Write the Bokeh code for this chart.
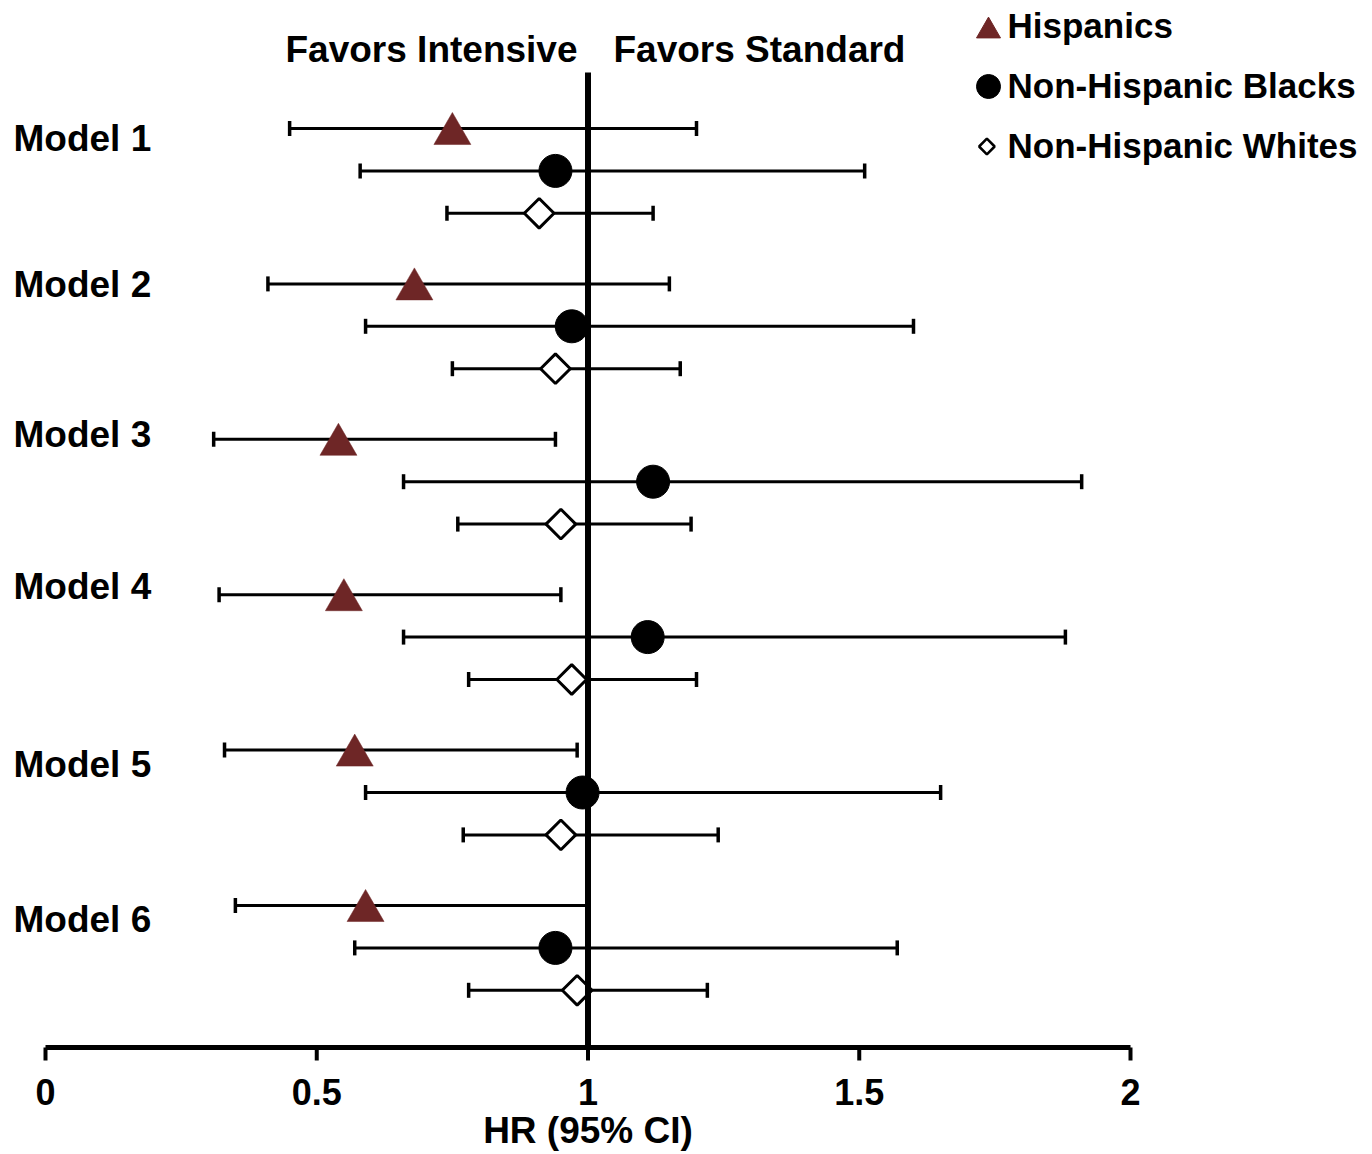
import math
from bokeh.plotting import figure
from bokeh.models import Range1d, ColumnDataSource
from bokeh.core.properties import value
from bokeh.embed import file_html
from bokeh.resources import INLINE

# ---------------- data ----------------
models = ["Model 1", "Model 2", "Model 3", "Model 4", "Model 5", "Model 6"]
series_names = ["Hispanics", "Non-Hispanic Blacks", "Non-Hispanic Whites"]

hisp_hr = [0.75, 0.68, 0.54, 0.55, 0.57, 0.59]
hisp_lo = [0.45, 0.41, 0.31, 0.32, 0.33, 0.35]
hisp_hi = [1.20, 1.15, 0.94, 0.95, 0.98, 1.00]

black_hr = [0.94, 0.97, 1.12, 1.11, 0.99, 0.94]
black_lo = [0.58, 0.59, 0.66, 0.66, 0.59, 0.57]
black_hi = [1.51, 1.60, 1.91, 1.88, 1.65, 1.57]

white_hr = [0.91, 0.94, 0.95, 0.97, 0.95, 0.98]
white_lo = [0.74, 0.75, 0.76, 0.78, 0.77, 0.78]
white_hi = [1.12, 1.17, 1.19, 1.20, 1.24, 1.22]

x_ticks = [0, 0.5, 1, 1.5, 2]
x_tick_labels = ["0", "0.5", "1", "1.5", "2"]
x_axis_title = "HR (95% CI)"
favors_left = "Favors Intensive"
favors_right = "Favors Standard"
ref_value = 1.0

# ---------------- layout (pixels in page space) ----------------
FIG_W, FIG_H = 1370, 1154
OFF = 0
X0_PX, X2_PX = 45, 1130
PX_PER_UNIT = (X2_PX - X0_PX) / 2.0


def px_x(px):
    return (px - X0_PX) / PX_PER_UNIT


ROW0 = 128.0
GROUP_STEP = 155.4
SERIES_STEP = 42.4
AXIS_Y = 1047
REF_TOP = 72
MODEL_LABEL_CENTER = [138, 284, 434, 586, 764, 919]

FONT = value("Liberation Sans")

p = figure(width=FIG_W, height=FIG_H, output_backend="svg", toolbar_location=None,
           x_range=Range1d(px_x(OFF), px_x(OFF + FIG_W)),
           y_range=Range1d(OFF + FIG_H, OFF),
           x_axis_location=None, y_axis_location=None, min_border=0, tools="")
p.grid.grid_line_color = None
p.outline_line_color = None
p.background_fill_color = "white"
p.border_fill_color = "white"

TRI_COLOR = "#6E2626"

series = [
    (hisp_hr, hisp_lo, hisp_hi),
    (black_hr, black_lo, black_hi),
    (white_hr, white_lo, white_hi),
]

srcs = []
for s, (hr, lo, hi) in enumerate(series):
    ys = [ROW0 + g * GROUP_STEP + s * SERIES_STEP for g in range(len(models))]
    src = ColumnDataSource(dict(
        hr=hr, lo=lo, hi=hi, y=ys,
        y_top=[y - 7.5 for y in ys], y_bot=[y + 7.5 for y in ys],
        model=models,
    ))
    srcs.append(src)
    p.segment(x0="lo", y0="y", x1="hi", y1="y", source=src, line_color="black", line_width=3)
    p.segment(x0="lo", y0="y_top", x1="lo", y1="y_bot", source=src, line_color="black", line_width=3.5)
    p.segment(x0="hi", y0="y_top", x1="hi", y1="y_bot", source=src, line_color="black", line_width=3.5)

# markers
TRI_SIZE = 37
tri_dy = TRI_SIZE * math.sqrt(3) / 2 / 6
hs = srcs[0]
hs.data["y_tri"] = [y + tri_dy for y in hs.data["y"]]
p.scatter(x="hr", y="y_tri", source=hs, marker="triangle", size=TRI_SIZE,
          fill_color=TRI_COLOR, line_color=TRI_COLOR, line_width=0.5)
p.scatter(x="hr", y="y", source=srcs[1], marker="circle", size=33,
          fill_color="black", line_color="black")
p.scatter(x="hr", y="y", source=srcs[2], marker="square", size=21, angle=math.pi / 4,
          fill_color="white", line_color="black", line_width=3)

# reference line at HR = 1
p.segment(x0=[ref_value], y0=[REF_TOP], x1=[ref_value], y1=[AXIS_Y], line_color="black", line_width=6)

# x axis (drawn with the plot's scales)
p.segment(x0=[x_ticks[0]], y0=[AXIS_Y], x1=[x_ticks[-1]], y1=[AXIS_Y], line_color="black", line_width=5)
p.segment(x0=x_ticks, y0=[AXIS_Y] * len(x_ticks), x1=x_ticks, y1=[AXIS_Y + 13] * len(x_ticks),
          line_color="black", line_width=4)
p.text(x=x_ticks, y=[1091] * len(x_ticks), text=x_tick_labels, text_align="center",
       text_baseline="middle", text_font=FONT, text_font_style="bold",
       text_font_size="36px", text_color="black")
p.text(x=[ref_value], y=[1130], text=[x_axis_title], text_align="center",
       text_baseline="middle", text_font=FONT, text_font_style="bold",
       text_font_size="37px", text_color="black")

# model labels
p.text(x=[px_x(13)] * len(models), y=MODEL_LABEL_CENTER, text=models,
       text_align="left", text_baseline="middle", text_font=FONT, text_font_style="bold",
       text_font_size="37px", text_color="black")

# favors headers
p.text(x=[px_x(577)], y=[49], text=[favors_left], text_align="right", text_baseline="middle",
       text_font=FONT, text_font_style="bold", text_font_size="37px", text_color="black")
p.text(x=[px_x(613)], y=[49], text=[favors_right], text_align="left", text_baseline="middle",
       text_font=FONT, text_font_style="bold", text_font_size="37px", text_color="black")

# legend (manual)
LEG_X = px_x(988)
LEG_Y = [27, 86, 146]
p.scatter(x=[LEG_X], y=[LEG_Y[0] + 24 * math.sqrt(3) / 2 / 6], marker="triangle", size=24,
          fill_color=TRI_COLOR, line_color=TRI_COLOR)
p.scatter(x=[LEG_X], y=[LEG_Y[1]], marker="circle", size=24, fill_color="black", line_color="black")
p.scatter(x=[LEG_X - 0.003], y=[LEG_Y[2]], marker="square", size=11, angle=math.pi / 4,
          fill_color="white", line_color="black", line_width=2.5)
p.text(x=[px_x(1007)] * 3, y=[25, 85, 145], text=series_names,
       text_align="left", text_baseline="middle", text_font=FONT, text_font_style="bold",
       text_font_size="35px", text_color="black")

open("out.html", "w").write(file_html(p, INLINE))
